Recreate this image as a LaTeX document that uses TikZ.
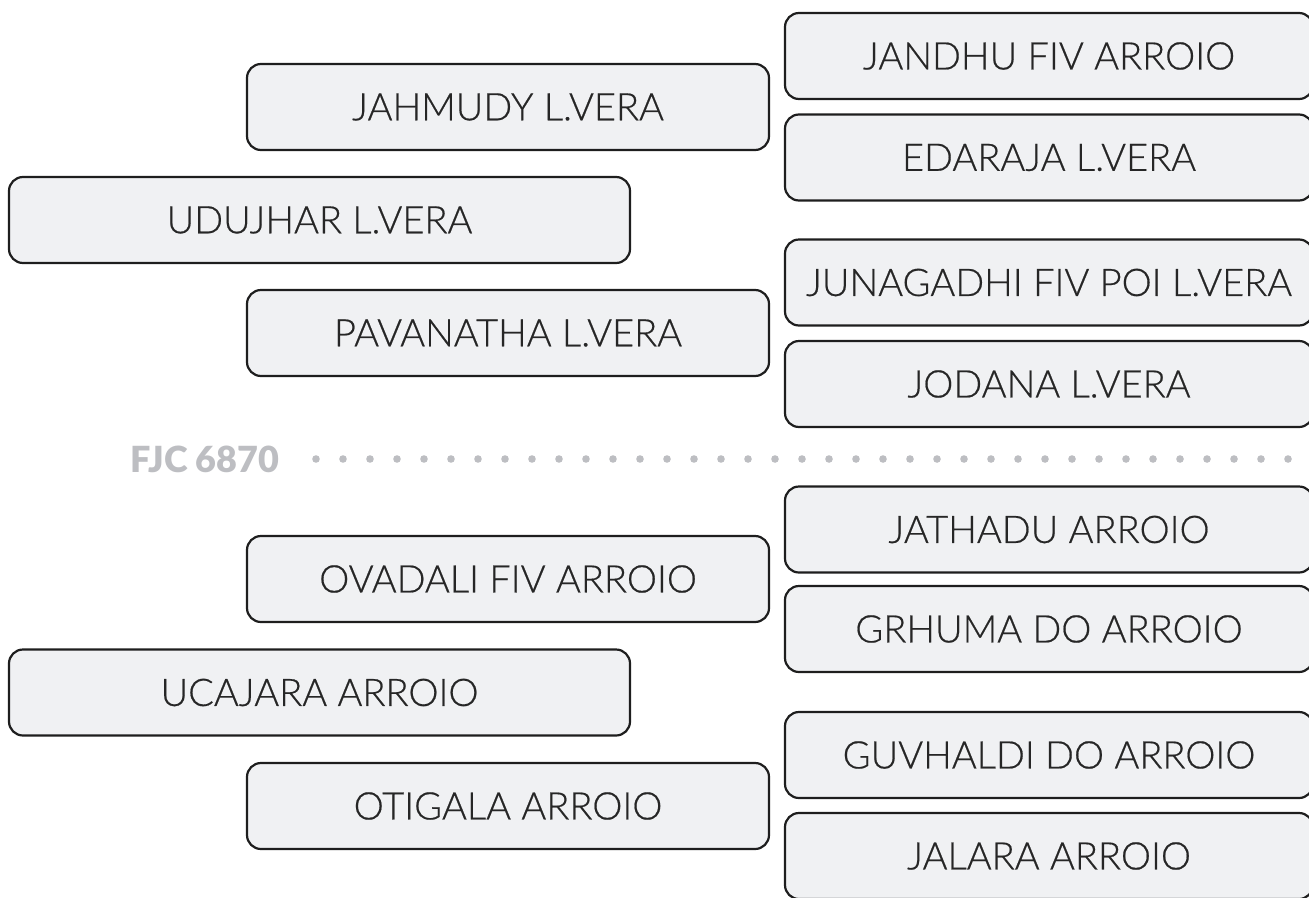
\documentclass[tikz,border=0pt]{standalone}
\usepackage{fontspec}
\setmainfont{Lato}
\IfFontExistsTF{Lato Light}{\newfontfamily\namefont{Lato Light}[FakeBold=0.5,AutoFakeBold=0.5]}{\newfontfamily\namefont{Lato}}
\IfFontExistsTF{Lato Black}{\newfontfamily\sepfont{Lato Black}}{\newfontfamily\sepfont{Lato}[UprightFont=*-Bold]}
\usepackage{tikz}
\definecolor{boxfill}{HTML}{F0F1F3}
\definecolor{boxline}{HTML}{1E1E1E}
\definecolor{sepgray}{HTML}{BDBEC2}
\definecolor{namedark}{HTML}{262626}

\begin{document}
\begin{tikzpicture}[x=1pt,y=-1pt]
                \clip (0,0) rectangle (1309,897);
                \begin{scope}[every node/.style={draw=boxline, fill=boxfill, line width=2.2pt, rounded corners=14pt, minimum height=86pt, inner sep=0, text=namedark, font=\namefont\bfseries\fontsize{38}{44}\selectfont}]
                        % upper half
                        \node [minimum width=528pt] (r1) at (1049,56) {JANDHU FIV ARROIO};
                        \node [minimum width=528pt] (r2) at (1049,157.5) {EDARAJA L.VERA};
                        \node [minimum width=528pt] (r3) at (1049,282.5) {JUNAGADHI FIV POI L.VERA};
                        \node [minimum width=528pt] (r4) at (1049,384) {JODANA L.VERA};
                        \node [minimum width=522pt] (m1) at (508,107) {JAHMUDY L.VERA};
                        \node [minimum width=522pt] (m2) at (508,333) {PAVANATHA L.VERA};
                        \node [minimum width=621pt] (l1) at (319.5,220) {UDUJHAR L.VERA};
                        % lower half
                        \node [minimum width=528pt] (r5) at (1049,529.5) {JATHADU ARROIO};
                        \node [minimum width=528pt] (r6) at (1049,629) {GRHUMA DO ARROIO};
                        \node [minimum width=528pt] (r7) at (1049,755) {GUVHALDI DO ARROIO};
                        \node [minimum width=528pt] (r8) at (1049,856) {JALARA ARROIO};
                        \node [minimum width=522pt] (m3) at (508,579) {OVADALI FIV ARROIO};
                        \node [minimum width=522pt] (m4) at (508,806) {OTIGALA ARROIO};
                        \node [minimum width=621pt] (l2) at (319.5,692.5) {UCAJARA ARROIO};
                \end{scope}

                \node [text=sepgray, font=\sepfont\fontsize{36}{40}\selectfont] (sep) at (205,459) {FJC 6870};
                \foreach \i in {0,...,36}
                        \fill [sepgray] (316+27*\i,459) circle (3.8pt);
        \end{tikzpicture}
\end{document}
